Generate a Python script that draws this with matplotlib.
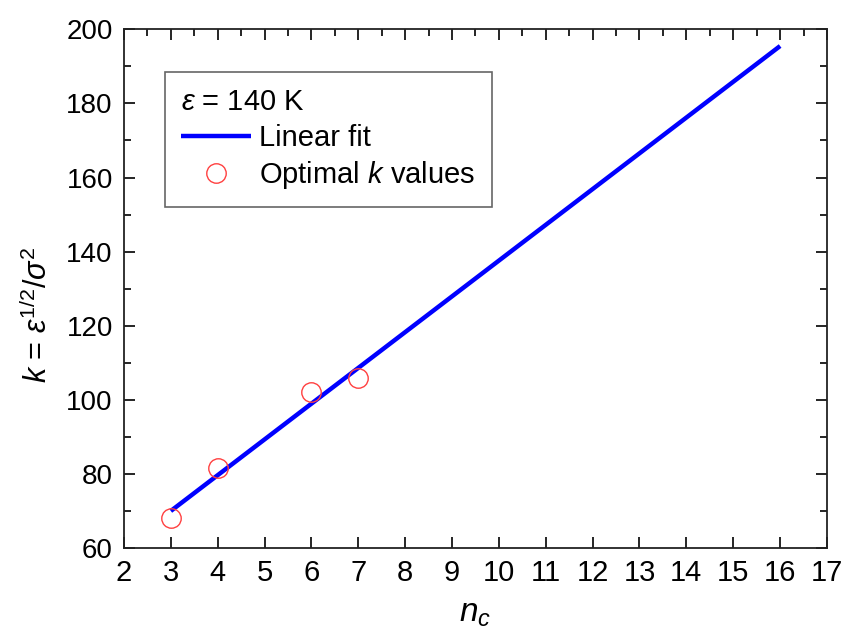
import matplotlib
matplotlib.use('Agg')
import matplotlib.pyplot as plt
import numpy as np

plt.rcParams['font.family'] = ['Liberation Sans', 'DejaVu Sans']
plt.rcParams['mathtext.fontset'] = 'custom'
plt.rcParams['mathtext.it'] = 'Liberation Sans:italic'
plt.rcParams['mathtext.rm'] = 'Liberation Sans'

# optimal k for each chain length
n_c = [3, 4, 6, 7]
k_opt = [68.0, 81.5, 102.0, 106.0]

# linear fit, drawn between its end points
fit_n = [3, 16]
fit_k = [70.0, 195.5]

fig = plt.figure(figsize=(8.43, 6.31), dpi=100)
ax = fig.add_axes([0.147, 0.1315, 0.834, 0.822])

ax.plot(fit_n, fit_k, color='#0000ff', lw=3.2, solid_capstyle='butt',
        label='Linear fit', zorder=3)
ax.plot(n_c, k_opt, linestyle='none', marker='o', ms=14, mfc='none',
        mec='#ff4040', mew=1.0, label='Optimal $k$ values', zorder=4)

ax.set_xlim(2, 17)
ax.set_ylim(60, 200)
ax.set_xticks(np.arange(2, 18, 1))
ax.set_xticks(np.arange(2.5, 17, 1), minor=True)
ax.set_yticks(np.arange(60, 201, 20))
ax.set_yticks(np.arange(70, 200, 20), minor=True)

ax.tick_params(which='both', direction='in', top=True, right=True,
               labelsize=20, width=1.2)
ax.tick_params(which='major', length=8, pad=8)
ax.tick_params(which='minor', length=5)
ax.tick_params(axis='x', which='minor', bottom=False)
ax.tick_params(axis='x', labelsize=21)
for s in ax.spines.values():
    s.set_linewidth(1.3)
    s.set_color('#222222')

ax.set_xlabel('$n_c$', fontsize=24, labelpad=8)
ax.set_ylabel(r'$k$ = $\varepsilon^{1/2}/\sigma^{2}$', fontsize=22)
ax.yaxis.set_label_coords(-0.10, 0.45)

leg = ax.legend(title=r'$\varepsilon$ = 140 K', alignment='left',
                loc='upper left', bbox_to_anchor=(0.058, 0.917),
                borderaxespad=0, fontsize=21, title_fontsize=21,
                fancybox=False, framealpha=1, edgecolor='#666666',
                handlelength=2.4, handletextpad=0.3, labelspacing=0.25,
                borderpad=0.55)
leg.get_frame().set_linewidth(1.2)

fig.savefig('out.png', dpi=100)
